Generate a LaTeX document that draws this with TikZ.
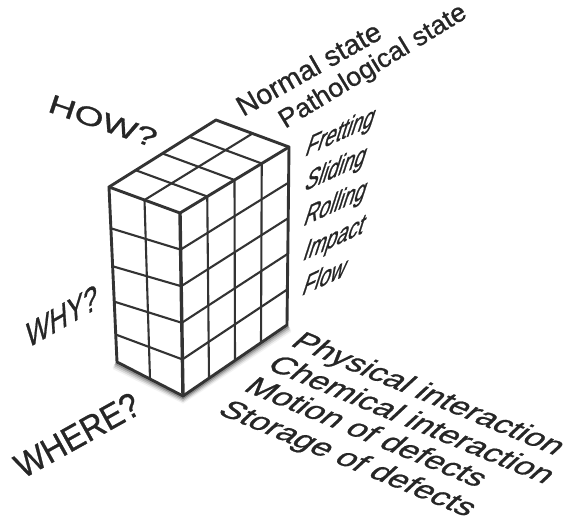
\documentclass[tikz,border=0pt]{standalone}
\usepackage{fontspec}
\setmainfont{Liberation Sans}[FakeBold=0.8]
\usetikzlibrary{calc}
\begin{document}
\begin{tikzpicture}[x=1pt,y=-1pt,>=latex]
        \tikzset{
            edge/.style={black!80,line width=2.9pt,line join=round,line cap=round},
            cell/.style={black!80,line width=2.1pt},
            lbl/.style={font=\fontsize{20}{24}\selectfont,text=black!85,inner sep=0pt},
            shade/.style={black,line width=3pt,line cap=round}
        }
        \useasboundingbox[fill=white] (0,0) rectangle (566,532);

        \coordinate (lt) at (109,187);
        \coordinate (ft) at (180,213);
        \coordinate (rt) at (289,147);
        \coordinate (bt) at (216,120);
        \coordinate (lb) at (117,362);
        \coordinate (fb) at (183,396);
        \coordinate (rb) at (287,325);

        \foreach \d/\o in {1.5/0.3,3/0.18,4.5/0.1,6/0.05} {
            \draw[shade,opacity=\o] ($(lb)+(-\d/2,\d)$) -- ($(fb)+(0,\d)$) -- ($(rb)+(\d/2,\d)$);
        }
        \fill[white] (lt) -- (bt) -- (rt) -- (rb) -- (fb) -- (lb) -- cycle;

        \foreach \u/\t in {0.236/0.2,0.453/0.4,0.655/0.6,0.843/0.8} {
            \draw[cell] ($(lt)!\u!(lb)$) -- ($(ft)!\t!(fb)$) -- ($(rt)!\t!(rb)$);
        }
        \draw[cell] ($(lt)!0.5!(ft)$) -- ($(lb)!0.5!(fb)$);
        \foreach \s in {0.25,0.5,0.75} {
            \draw[cell] ($(ft)!\s!(rt)$) -- ($(fb)!\s!(rb)$);
            \draw[cell] ($(lt)!\s!(bt)$) -- ($(ft)!\s!(rt)$);
        }
        \draw[cell] ($(lt)!0.5!(ft)$) -- ($(bt)!0.5!(rt)$);

        \draw[edge] (lt) -- (bt) -- (rt) -- (rb) -- (fb) -- (lb) -- cycle;
        \draw[edge] (lt) -- (ft) -- (rt);
        \draw[edge,line width=3.4pt] (ft) -- (fb);

        \node[lbl,cm={1.78,-0.61,0.42,1.25,(0,0)}] (how) at (103,121) {HOW?};
        \node[lbl,cm={1.22,0.70,-0.12,1.75,(0,0)}] (why) at (62,316) {WHY?};
        \node[lbl,cm={1.40,0.78,-0.85,1.53,(0,0)}] (where) at (77,435) {WHERE?};

        \node[lbl,anchor=base west,cm={1.24,0.70,-0.70,1.22,(0,0)}] (normal) at (243,117) {Normal state};
        \node[lbl,anchor=base west,cm={1.16,0.71,-0.68,1.12,(0,0)}] (patho) at (285,129) {Pathological state};

        \foreach \w [count=\i from 0] in {Fretting,Sliding,Rolling,Impact,Flow} {
            \node[lbl,anchor=base west,cm={1.0,0.465,0.49,1.52,(0,0)}] (way\i) at (304-0.8*\i,157+34.8*\i) {\w};
        }

        \foreach \w/\x/\y [count=\i] in {Physical interaction/289/345,Chemical interaction/265/368,Motion of defects/242/390,Storage of defects/216/413} {
            \node[lbl,anchor=base west,cm={1.54,-0.64,1.10,1.02,(0,0)}] (place\i) at (\x,\y) {\w};
        }
    \end{tikzpicture}
\end{document}
